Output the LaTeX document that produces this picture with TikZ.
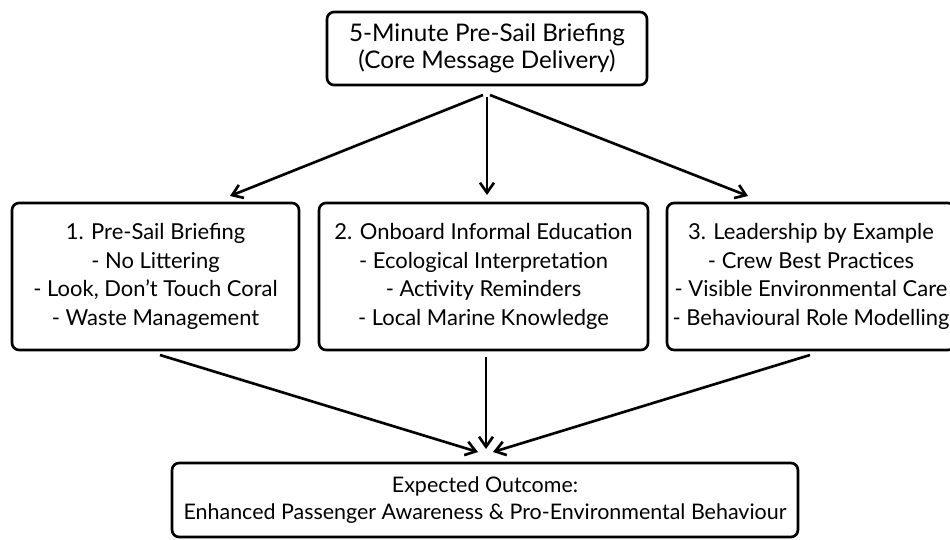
\documentclass[tikz,border=0pt]{standalone}
\usepackage{fontspec}
\setmainfont{Lato}
\usetikzlibrary{calc,arrows.meta}

\tikzset{
  box/.style = {draw, line width=1.5pt, rounded corners=4pt, align=center,
                font=\fontsize{12.5}{16.3}\selectfont, inner sep=0pt},
  arr/.style = {line width=1.5pt, -{Straight Barb[length=2mm,width=2.8mm]}}
}

\begin{document}
\begin{tikzpicture}[x=0.02cm, y=-0.02cm]
\useasboundingbox[fill=white] (0,0) rectangle (950,539);

% top box
\node[box, font=\fontsize{13.8}{15.6}\selectfont, minimum width=6.4cm, minimum height=1.46cm] (brief) at (487,48.5)
  {5-Minute Pre-Sail Briefing\\(Core Message Delivery)};

% three strategy boxes
\node[box, minimum width=5.74cm, minimum height=2.94cm] (pre) at (155.5,276.5)
  {1. Pre-Sail Briefing\\- No Littering\\- Look, Don't Touch Coral\\- Waste Management};
\node[box, minimum width=6.58cm, minimum height=2.94cm] (onboard) at (483.5,276.5)
  {2. Onboard Informal Education\\- Ecological Interpretation\\- Activity Reminders\\- Local Marine Knowledge};
\node[box, minimum width=5.76cm, minimum height=2.94cm] (lead) at (811,276.5)
  {3. Leadership by Example\\- Crew Best Practices\\- Visible Environmental Care\\- Behavioural Role Modelling};

% outcome box
\node[box, font=\fontsize{12.2}{15}\selectfont, minimum width=12.52cm, minimum height=1.48cm] (outcome) at (485,500)
  {Expected Outcome:\\Enhanced Passenger Awareness \& Pro-Environmental Behaviour};

% arrow ends
\coordinate (f1) at (483,95);
\coordinate (f2) at (487,97);
\coordinate (f3) at (490,95);
\coordinate (t1) at (230,196);
\coordinate (t2) at (487,195);
\coordinate (t3) at (748,196);
\coordinate (s1) at (160,355);
\coordinate (s2) at (486,357);
\coordinate (s3) at (810,355);
\coordinate (m1) at (478,452);
\coordinate (m2) at (486,449);
\coordinate (m3) at (493,452);

% arrows down from the briefing
\foreach \a/\b in {f1/t1, f2/t2, f3/t3}{
  \draw[arr] (\a) -- (\b);
}

% arrows into the outcome
\foreach \a/\b in {s1/m1, s2/m2, s3/m3}{
  \draw[arr] (\a) -- (\b);
}

\end{tikzpicture}
\end{document}
